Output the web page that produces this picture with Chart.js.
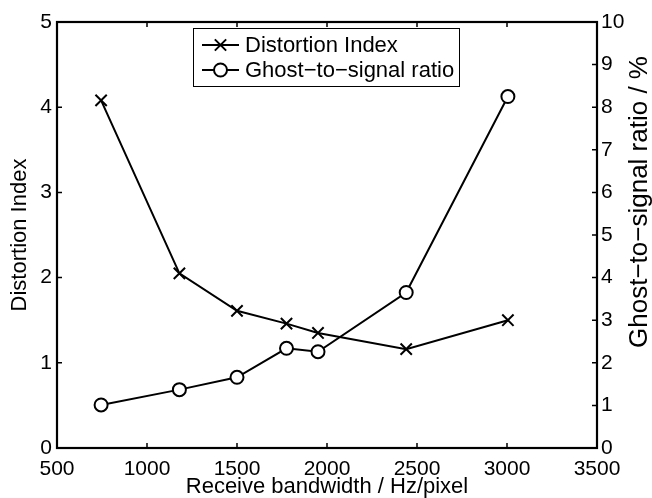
<!DOCTYPE html>
<html>
<head>
<meta charset="utf-8">
<script src="https://cdn.jsdelivr.net/npm/chart.js@4/dist/chart.umd.min.js"></script>
<style>
html, body { margin: 0; padding: 0; background: #fff; }
#wrap { width: 652px; height: 498px; }
</style>
</head>
<body>
<div id="wrap"><canvas id="c" width="652" height="498"></canvas></div>
<script>
// receive bandwidth (Hz/pixel)
var bw = [745, 1180, 1500, 1775, 1950, 2440, 3005];
var distIdx = [4.08, 2.05, 1.61, 1.46, 1.35, 1.16, 1.50];
var ghostPct = [1.01, 1.37, 1.66, 2.34, 2.26, 3.65, 8.25];

var xTicks = [500, 1000, 1500, 2000, 2500, 3000, 3500];
var leftTicks = [0, 1, 2, 3, 4, 5];
var rightTicks = [0, 1, 2, 3, 4, 5, 6, 7, 8, 9, 10];

var FONT = "'Liberation Sans', Arial, Helvetica, sans-serif";

function pts(xs, ys) {
    return xs.map(function (x, i) { return { x: x, y: ys[i] }; });
}

// box round the plot, with inward ticks as in the original
var framePlug = {
    id: "frame",
    afterDraw: function (ch) {
        var a = ch.chartArea, g = ch.ctx, s = ch.scales, L = 5;
        g.save();
        g.strokeStyle = "#000";
        g.lineWidth = 1.5;
        g.beginPath();
        s.x.ticks.forEach(function (t) {
            var px = s.x.getPixelForValue(t.value);
            g.moveTo(px, a.bottom); g.lineTo(px, a.bottom - L);
            g.moveTo(px, a.top); g.lineTo(px, a.top + L);
        });
        s.y.ticks.forEach(function (t) {
            var py = s.y.getPixelForValue(t.value);
            g.moveTo(a.left, py); g.lineTo(a.left + L, py);
        });
        s.y2.ticks.forEach(function (t) {
            var py = s.y2.getPixelForValue(t.value);
            g.moveTo(a.right, py); g.lineTo(a.right - L, py);
        });
        g.stroke();
        g.lineWidth = 2.2;
        g.strokeRect(a.left, a.top, a.right - a.left, a.bottom - a.top);

        // axis titles
        g.fillStyle = "#000";
        g.font = "22px " + FONT;
        g.textAlign = "center";
        g.textBaseline = "middle";
        g.fillText("Receive bandwidth / Hz/pixel", (a.left + a.right) / 2, 487);
        g.save();
        g.translate(20, (a.top + a.bottom) / 2);
        g.rotate(-Math.PI / 2);
        g.fillText("Distortion Index", 0, 0);
        g.restore();
        // right label is a bit bigger in the original
        g.save();
        g.font = "26px " + FONT;
        g.translate(640, 202);
        g.rotate(-Math.PI / 2);
        g.fillText("Ghost\u2212to\u2212signal ratio / %", 0, 0);
        g.restore();

        // legend
        var bx = 193, by = 28, bwid = 266, bh = 58;
        g.fillStyle = "#fff";
        g.fillRect(bx, by, bwid, bh);
        g.lineWidth = 1;
        g.strokeStyle = "#000";
        g.strokeRect(bx + 0.5, by + 0.5, bwid, bh);
        var rows = [45, 70];
        ch.data.datasets.forEach(function (d, i) {
            var yy = rows[i];
            g.lineWidth = 2;
            g.beginPath();
            g.moveTo(202, yy); g.lineTo(239, yy);
            g.stroke();
            g.fillStyle = "#fff";
            Chart.helpers.drawPoint(g, {
                pointStyle: d.pointStyle,
                radius: d.pointRadius,
                borderWidth: 2,
                rotation: 0
            }, 220.5, yy);
            g.fillStyle = "#000";
            g.textAlign = "left";
            g.fillText(d.label, 245, yy + 1);
        });
        g.restore();
    }
};

new Chart(document.getElementById("c"), {
    type: "scatter",
    data: {
        datasets: [
            {
                label: "Distortion Index",
                data: pts(bw, distIdx),
                yAxisID: "y",
                showLine: true,
                borderColor: "#000",
                borderWidth: 2,
                pointStyle: "crossRot",
                pointRadius: 8,
                pointBorderWidth: 2,
                pointBorderColor: "#000",
                pointBackgroundColor: "#000"
            },
            {
                label: "Ghost\u2212to\u2212signal ratio",
                data: pts(bw, ghostPct),
                yAxisID: "y2",
                showLine: true,
                borderColor: "#000",
                borderWidth: 2,
                pointStyle: "circle",
                pointRadius: 6.5,
                pointBorderWidth: 2,
                pointBorderColor: "#000",
                pointBackgroundColor: "#fff"
            }
        ]
    },
    options: {
        responsive: false,
        animation: false,
        devicePixelRatio: 1,
        layout: { padding: { top: 22, left: 0, right: 0, bottom: 0 } },
        plugins: {
            legend: { display: false },
            tooltip: { enabled: false }
        },
        scales: {
            x: {
                type: "linear",
                min: 500,
                max: 3500,
                afterBuildTicks: function (sc) {
                    sc.ticks = xTicks.map(function (v) { return { value: v }; });
                },
                afterFit: function (sc) { sc.height = 50; },
                grid: { display: false, drawTicks: false },
                border: { display: false },
                ticks: {
                    autoSkip: false,
                    maxRotation: 0,
                    padding: 9,
                    color: "#000",
                    font: { family: FONT, size: 21 },
                    callback: function (v) { return String(v); }
                }
            },
            y: {
                position: "left",
                min: 0,
                max: 5,
                afterBuildTicks: function (sc) {
                    sc.ticks = leftTicks.map(function (v) { return { value: v }; });
                },
                afterFit: function (sc) { sc.width = 57; },
                grid: { display: false, drawTicks: false },
                border: { display: false },
                ticks: {
                    padding: 5,
                    color: "#000",
                    font: { family: FONT, size: 21 },
                    callback: function (v) { return String(v); }
                }
            },
            y2: {
                position: "right",
                min: 0,
                max: 10,
                afterBuildTicks: function (sc) {
                    sc.ticks = rightTicks.map(function (v) { return { value: v }; });
                },
                afterFit: function (sc) { sc.width = 55; },
                grid: { display: false, drawTicks: false },
                border: { display: false },
                ticks: {
                    padding: 4,
                    color: "#000",
                    font: { family: FONT, size: 21 },
                    callback: function (v) { return String(v); }
                }
            }
        }
    },
    plugins: [framePlug]
});
</script>
</body>
</html>
